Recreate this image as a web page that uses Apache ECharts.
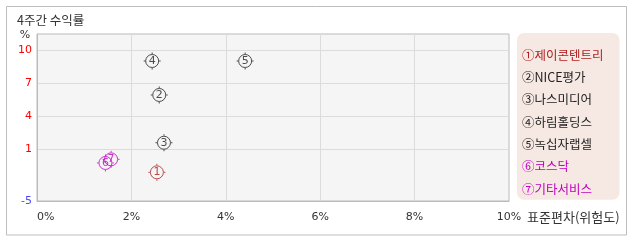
<!DOCTYPE html>
<html><head><meta charset="utf-8">
<script src="https://cdn.jsdelivr.net/npm/echarts@6/dist/echarts.min.js"></script>
<style>html,body{margin:0;padding:0;background:#fff}#c{width:638px;height:242px}</style>
</head><body><div id="c"></div>
<script>
var names = ['①제이콘텐트리','②NICE평가','③나스미디어','④하림홀딩스','⑤녹십자랩셀','⑥코스닥','⑦기타서비스'];
var marks = ['1','2','3','4','5','6','7'];
var riskX = [2.54, 2.59, 2.69, 2.44, 4.41, 1.45, 1.57];
var returnY = [-1.12, 5.91, 1.57, 9.0, 9.0, -0.27, 0.06];
var colors = ['#b02020','#222222','#222222','#222222','#222222','#c000c0','#c000c0'];
var xTicks = [0, 2, 4, 6, 8, 10];
var yTickValues = [1, 4, 7, 10];
var yBottomLabel = '-5';

var FONT = 'DejaVu Sans, Noto Sans CJK KR, sans-serif';
var KFONT = 'Noto Sans CJK KR, DejaVu Sans, sans-serif';
var yMin = 1 - 52 / 11;
var yMax = 10 + 16 / 11;
var sym = 'path://M0,-6.5A6.5,6.5,0,1,1,0,6.5A6.5,6.5,0,1,1,0,-6.5ZM0,-8.5L0,-7M0,7L0,8.5M-8.5,0L-7,0M7,0L8.5,0';

var series = names.map(function (n, i) {
  return {
    type: 'scatter', name: n,
    symbol: sym, symbolSize: 17,
    itemStyle: { color: 'rgba(0,0,0,0)', borderColor: colors[i], borderWidth: 1 },
    label: { show: true, position: 'inside', formatter: marks[i], color: colors[i], fontSize: 11, fontFamily: FONT },
    data: [[riskX[i], returnY[i]]],
    z: 10 - i
  };
});

var chart = echarts.init(document.getElementById('c'), null, { renderer: 'canvas' });
chart.setOption({
  animation: false,
  title: { text: '4주간 수익률', left: 12, top: 9, textStyle: { fontSize: 12.5, fontWeight: 'normal', color: '#333', fontFamily: KFONT } },
  graphic: [
    { type: 'rect', shape: { x: 6.5, y: 6.5, width: 620, height: 228.5 }, style: { fill: 'none', stroke: '#bdbdbd', lineWidth: 1 }, z: -10 },
    { type: 'text', x: 25, y: 35, style: { text: '%', fill: '#333', font: '11px ' + FONT, textAlign: 'center', textVerticalAlign: 'middle' } }
  ],
  legend: {
    orient: 'vertical', left: 517, top: 33,
    padding: [15, 16, 4, 0],
    itemWidth: 0, itemHeight: 14, itemGap: 8.3, icon: 'none',
    backgroundColor: '#f6e9e3', borderRadius: 7,
    textStyle: { fontSize: 12.5, fontFamily: KFONT, lineHeight: 14 },
    selectedMode: false,
    data: names.map(function (n, i) { return { name: n, textStyle: { color: colors[i] } }; })
  },
  grid: { left: 37, right: 129, top: 34, bottom: 41, show: true, backgroundColor: '#f5f5f5', borderColor: '#bbbbbb', borderWidth: 1 },
  xAxis: {
    type: 'value', min: 0, max: 10, interval: 2,
    name: '표준편차(위험도)', nameLocation: 'end', nameGap: 12,
    nameTextStyle: { color: '#333', fontSize: 13, fontFamily: KFONT, verticalAlign: 'top', padding: [10, 0, 0, 0] },
    axisLine: { show: true, onZero: false, lineStyle: { color: '#bbbbbb' } },
    axisTick: { show: false },
    axisLabel: { color: '#333', fontSize: 11, fontFamily: FONT, margin: 11, alignMinLabel: 'left', formatter: function (v) { return v + '%'; } },
    splitLine: { show: true, lineStyle: { color: '#dcdcdc' } }
  },
  yAxis: {
    type: 'value', min: yMin, max: yMax,
    axisLine: { show: true, onZero: false, lineStyle: { color: '#bbbbbb' } },
    axisTick: { show: false, customValues: [yMin].concat(yTickValues) },
    axisLabel: {
      fontSize: 11, fontFamily: FONT, margin: 5,
      customValues: [yMin].concat(yTickValues),
      formatter: function (v) { return v < 0 ? '{b|' + yBottomLabel + '}' : '{r|' + Math.round(v) + '}'; },
      rich: { r: { color: '#ff0000', fontSize: 11, fontFamily: FONT }, b: { color: '#4a4aff', fontSize: 11, fontFamily: FONT } }
    },
    splitLine: { show: true, lineStyle: { color: '#dcdcdc' } }
  },
  series: series
});
</script></body></html>
